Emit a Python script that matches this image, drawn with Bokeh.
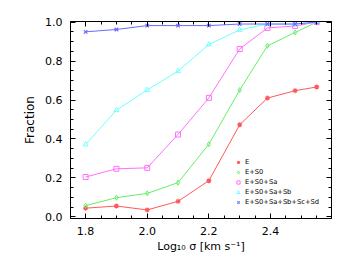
from bokeh.plotting import figure
from bokeh.models import (LinearAxis, FixedTicker, PrintfTickFormatter, Legend,
                          LegendItem, Range1d, CustomJSTickFormatter)
from bokeh.embed import file_html
from bokeh.resources import INLINE

# ---- data ----
log_sigma = [1.8, 1.9, 2.0, 2.1, 2.2, 2.3, 2.39, 2.48, 2.55]
frac_E = [0.045, 0.056, 0.036, 0.08, 0.186, 0.473, 0.61, 0.648, 0.667]
frac_ES0 = [0.058, 0.099, 0.121, 0.176, 0.373, 0.651, 0.878, 0.947, 1.0]
frac_ES0Sa = [0.205, 0.247, 0.252, 0.423, 0.611, 0.862, 0.97, 0.98, 1.0]
frac_ES0SaSb = [0.372, 0.548, 0.652, 0.748, 0.885, 0.96, 0.99, 0.99, 1.0]
frac_all = [0.95, 0.962, 0.982, 0.982, 0.982, 0.99, 0.99, 0.99, 1.0]

labels = ["E", "E+S0", "E+S0+Sa", "E+S0+Sa+Sb", "E+S0+Sa+Sb+Sc+Sd"]
series = [frac_E, frac_ES0, frac_ES0Sa, frac_ES0SaSb, frac_all]
colors = ["#ff5a5a", "#66ee66", "#ff70ff", "#70ffff", "#6a6aff"]
markers = ["asterisk", "diamond", "square", "triangle", "x"]

x_ticks = [1.8, 2.0, 2.2, 2.4]
y_ticks = [0.0, 0.2, 0.4, 0.6, 0.8, 1.0]

FONT = "DejaVu Sans"

p = figure(frame_width=261, frame_height=197, output_backend="svg",
           toolbar_location=None,
           x_range=Range1d(1.751, 2.598), y_range=Range1d(-0.008, 1.003),
           x_axis_type=None, y_axis_type=None,
           min_border_left=70, min_border_right=6, min_border_top=21,
           min_border_bottom=30)
p.grid.visible = False
p.outline_line_color = "black"
p.outline_line_width = 1
p.background_fill_color = "white"
p.border_fill_color = "white"

xminor = [round(1.75 + 0.05 * i, 2) for i in range(18)]
yminor = [round(0.05 * i, 2) for i in range(21)]


def style_axis(ax, show_labels):
    ax.major_tick_in = 5
    ax.major_tick_out = 0
    ax.minor_tick_in = 3
    ax.minor_tick_out = 0
    ax.axis_line_color = "black"
    ax.major_tick_line_color = "black"
    ax.minor_tick_line_color = "black"
    if show_labels:
        ax.formatter = PrintfTickFormatter(format="%.1f")
        ax.major_label_text_font = FONT
        ax.major_label_text_font_size = "11px"
        ax.major_label_text_color = "black"
        ax.axis_label_text_font = FONT
        ax.axis_label_text_font_size = "11px"
        ax.axis_label_text_font_style = "normal"
        ax.axis_label_text_color = "black"
    else:
        ax.formatter = CustomJSTickFormatter(code="return ''")
        ax.major_label_standoff = 0


xb = LinearAxis(ticker=FixedTicker(ticks=x_ticks, minor_ticks=xminor),
                axis_label="Log\u2081\u2080 \u03c3 [km s\u207b\u00b9]")
style_axis(xb, True)
xb.major_label_standoff = 8
xb.axis_label_standoff = 2
p.add_layout(xb, "below")

xt = LinearAxis(ticker=FixedTicker(ticks=x_ticks, minor_ticks=xminor))
style_axis(xt, False)
p.add_layout(xt, "above")

yl = LinearAxis(ticker=FixedTicker(ticks=y_ticks, minor_ticks=yminor),
                axis_label="Fraction")
style_axis(yl, True)
yl.axis_label_text_font_size = "12px"
yl.major_label_standoff = 8
yl.axis_label_standoff = 5
p.add_layout(yl, "left")

yr = LinearAxis(ticker=FixedTicker(ticks=y_ticks, minor_ticks=yminor))
style_axis(yr, False)
p.add_layout(yr, "right")

items = []
for lab, ys, c, m in zip(labels, series, colors, markers):
    p.line(log_sigma, ys, line_color=c, line_width=1)
    if m in ("asterisk", "x"):
        r = p.scatter(log_sigma, ys, marker=m, size=5, line_color=c, line_width=1.2)
    else:
        r = p.scatter(log_sigma, ys, marker=m, size=5, line_color=c,
                      fill_color=None, line_width=1)
    items.append(LegendItem(label=lab, renderers=[r]))

legend = Legend(items=items, location=(164, 12), orientation="vertical",
                label_text_font=FONT, label_text_font_size="6.7px",
                label_text_color="black", label_height=8, glyph_height=8,
                glyph_width=8, label_standoff=3, spacing=2, padding=0,
                margin=0, border_line_color=None, background_fill_alpha=0)
p.add_layout(legend, "center")

open("out.html", "w").write(file_html(p, INLINE))
